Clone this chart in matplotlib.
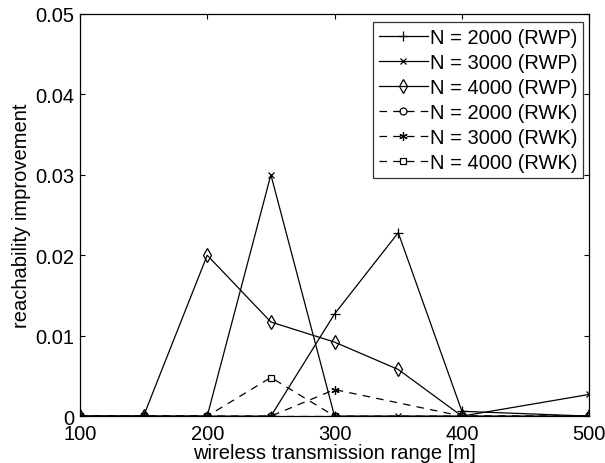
import matplotlib
matplotlib.use("Agg")
import matplotlib.pyplot as plt
from matplotlib.ticker import FixedLocator, FixedFormatter

plt.rcParams["font.family"] = ["Liberation Sans", "DejaVu Sans"]

x_rwp = [100, 150, 200, 250, 300, 350, 400, 500]
x_rwk = [100, 150, 200, 250, 300, 400, 500]

rwp_2000 = [0, 0, 0, 0, 0.0127, 0.0228, 0.0006, 0]
rwp_3000 = [0, 0, 0, 0.0300, 0, 0, 0, 0.0027]
rwp_4000 = [0, 0, 0.0200, 0.0117, 0.0092, 0.0058, 0, 0]
rwk_2000 = [0, 0, 0, 0, 0, 0, 0]
rwk_3000 = [0, 0, 0, 0, 0.0033, 0, 0]
rwk_4000 = [0, 0, 0, 0.0048, 0, 0, 0]

labels = ["N = 2000 (RWP)", "N = 3000 (RWP)", "N = 4000 (RWP)",
          "N = 2000 (RWK)", "N = 3000 (RWK)", "N = 4000 (RWK)"]

xticks = [100, 200, 300, 400, 500]
yticks = [0, 0.01, 0.02, 0.03, 0.04, 0.05]
ytick_labels = ["0", "0.01", "0.02", "0.03", "0.04", "0.05"]

fs = 14.5
fig = plt.figure(figsize=(6.05, 4.64), dpi=100)
ax = fig.add_axes([0.132, 0.101, 0.842, 0.867])

lw = 0.9
dash = (6, 5)
ax.plot(x_rwp, rwp_2000, color="k", lw=lw, marker="+", ms=7, mew=0.9, label=labels[0])
ax.plot(x_rwp, rwp_3000, color="k", lw=lw, marker="x", ms=4, mew=0.9, label=labels[1])
ax.plot(x_rwp, rwp_4000, color="k", lw=lw, marker="d", ms=7.5, mew=0.9,
        mfc="none", label=labels[2])
ax.plot(x_rwk, rwk_2000, color="k", lw=lw, dashes=dash, marker="o", ms=5,
        mew=0.9, mfc="none", label=labels[3])
ax.plot(x_rwk, rwk_3000, color="k", lw=lw, dashes=dash, marker=(6, 2, 0), ms=6,
        mew=0.9, label=labels[4])
ax.plot(x_rwk, rwk_4000, color="k", lw=lw, dashes=dash, marker="s", ms=4.5,
        mew=0.9, mfc="none", label=labels[5])

ax.set_xlim(100, 500)
ax.set_ylim(0, 0.05)
ax.xaxis.set_major_locator(FixedLocator(xticks))
ax.yaxis.set_major_locator(FixedLocator(yticks))
ax.yaxis.set_major_formatter(FixedFormatter(ytick_labels))
ax.tick_params(direction="in", top=True, right=True, length=3.5, width=0.8,
               labelsize=fs)
ax.tick_params(axis="x", pad=6)
ax.tick_params(axis="y", pad=4)
for s in ax.spines.values():
    s.set_linewidth(0.9)

ax.set_xlabel("wireless transmission range [m]", fontsize=fs, labelpad=0)
ax.set_ylabel("reachability improvement", fontsize=fs, labelpad=3)

leg = ax.legend(loc="upper right", bbox_to_anchor=(0.988, 0.980), borderaxespad=0,
                fontsize=fs, frameon=True, fancybox=False, edgecolor="k",
                handlelength=2.4, handletextpad=0.1, labelspacing=0.3,
                borderpad=0.3)
leg.get_frame().set_linewidth(0.9)

fig.savefig("out.png", dpi=100)
